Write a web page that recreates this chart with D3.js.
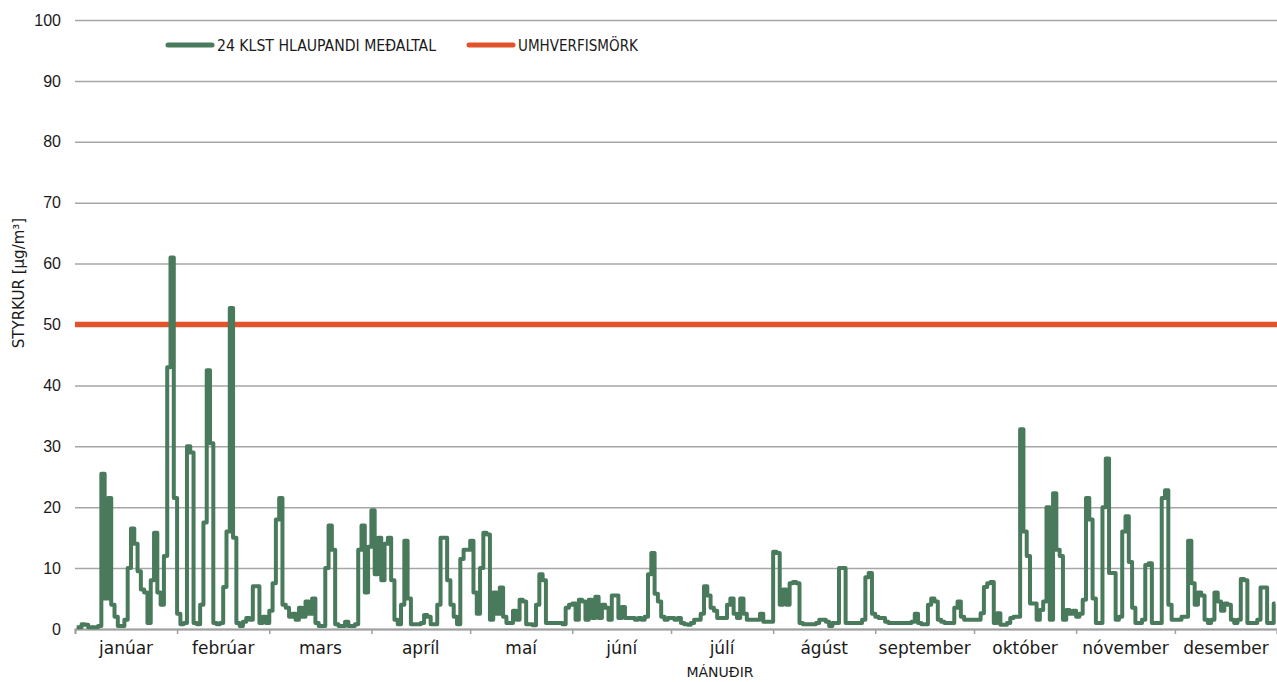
<!DOCTYPE html>
<html>
<head>
<meta charset="utf-8">
<script src="https://cdn.jsdelivr.net/npm/d3@7"></script>
<style>
  body { margin: 0; background: #fff; }
  svg { display: block; font-family: "DejaVu Sans", sans-serif; }
</style>
</head>
<body>
<svg id="chart"></svg>
<script>
// month names and lengths
const monthNames = ["janúar", "febrúar", "mars", "apríl", "maí", "júní", "júlí", "ágúst", "september", "október", "nóvember", "desember"];
const monthDays = [31, 28, 31, 30, 31, 30, 31, 31, 30, 31, 30, 31];

// daily values of the 24h running mean, one array per month (µg/m3)
const jan = [0.3, 0.3, 0.8, 0.7, 0.3, 0.3, 0.3, 0.5, 25.5, 5, 21.5, 4, 2, 0.5, 0.5, 1.5, 10, 16.5, 14, 9.5, 6.5, 6, 1, 8, 15.8, 6, 4, 12, 43, 61, 21.5];
const feb = [2.5, 0.8, 1, 30, 29, 1, 0.8, 4, 17.5, 42.5, 30.5, 1, 0.8, 1, 6.9, 16, 52.7, 15, 1, 0.5, 1.2, 1.8, 1.5, 7, 7, 1, 2, 1];
const mar = [3, 7.5, 18, 21.5, 4, 3.5, 2, 2.5, 1.5, 3.5, 2, 4.5, 2.5, 5, 1, 0.5, 0.5, 10, 17, 13, 0.8, 0.5, 0.5, 1.2, 0.5, 0.5, 0.8, 13, 17, 6, 13.5];
const apr = [19.5, 9, 15, 8, 14, 15, 8, 1.5, 0.8, 4, 14.5, 5, 0.8, 0.8, 0.8, 1, 2.3, 2, 0.8, 0.8, 4, 15, 15, 8, 4, 2, 0.8, 11.5, 13, 13];
const may = [14.5, 6, 2.5, 10, 15.8, 15.5, 1.5, 6, 2.5, 6.8, 2, 1, 1, 3, 1.5, 4.8, 4.5, 0.8, 0.8, 0.6, 4, 9, 8, 1, 1, 1, 1, 1, 0.8, 3.5, 4];
const jun = [4.2, 1.5, 4.8, 4.5, 1.5, 4.8, 1.8, 5.3, 1.8, 4, 3.5, 1.5, 5.5, 5.5, 1.8, 3.6, 1.8, 1.8, 1.8, 1.5, 1.8, 1.5, 2, 9, 12.5, 5.8, 4.5, 2, 1.5, 1.8];
const jul = [1.8, 1.5, 1.8, 1, 0.8, 0.7, 1, 1.5, 1.5, 2.5, 7, 5.5, 3.5, 3, 1.8, 1.8, 1.8, 4, 5, 2.5, 1.8, 5, 2.5, 1.5, 1.5, 1.5, 1.5, 2.5, 1.2, 1.2, 1.2];
const aug = [12.7, 12.5, 4, 6.5, 4, 7.5, 7.7, 7.5, 1, 0.8, 0.8, 0.8, 0.8, 1, 1.5, 1.5, 1.2, 0.5, 1, 1, 10, 10, 1, 1, 1, 1, 1, 1.5, 8.5, 9.2, 2.5];
const sep = [2, 1.8, 1.8, 1.2, 1, 1, 1, 1, 1, 1, 1, 1.2, 2.5, 1, 0.8, 0.8, 4, 5, 4.5, 1.5, 1.2, 1, 1, 1, 3.5, 4.5, 2, 1.5, 1.5, 1.5];
const oct = [1.5, 1.5, 2.6, 6.9, 7.5, 7.7, 1, 2.6, 0.7, 0.7, 1, 1.8, 2, 2, 32.8, 16, 12, 4.2, 4.2, 1.5, 3.1, 4.5, 20, 1.5, 22.3, 13, 12, 1.5, 3.1, 2.5, 3];
const nov = [2, 2.5, 4.8, 21.5, 18, 5, 1, 1, 20, 28, 9.2, 9.2, 1.5, 2, 16, 18.5, 11, 3.5, 1, 1, 1.5, 10.5, 10.8, 1, 1, 1, 21.5, 22.8, 4, 1.5];
const dec = [1.5, 1.5, 2, 2, 14.5, 7.5, 4, 6, 5.5, 1.5, 1, 1.5, 6, 4.5, 3, 4.2, 4, 1.5, 1, 1.5, 8.2, 8, 1, 1, 1, 1.5, 6.8, 6.8, 1, 1, 4.2];

const yTicks = [0, 10, 20, 30, 40, 50, 60, 70, 80, 90, 100];
const limitValue = 50;

const seriesLabel = "24 KLST HLAUPANDI MEÐALTAL";
const limitLabel = "UMHVERFISMÖRK";
const xTitle = "MÁNUÐIR";
const yTitle = "STYRKUR [µg/m³]";

const width = 1277, height = 682;
const margin = {top: 20, right: 0, bottom: 53, left: 75};
const green = "#4a7a5c", orange = "#e0532b";

const svg = d3.select("#chart").attr("width", width).attr("height", height);

const values = [jan, feb, mar, apr, may, jun, jul, aug, sep, oct, nov, dec].flat();
const data = values.map((v, i) => ({day: i + 0.5, value: v}));
const bounds = [0, ...d3.cumsum(monthDays)];

const x = d3.scaleLinear().domain([0, d3.sum(monthDays)]).range([margin.left, width - margin.right]);
const y = d3.scaleLinear().domain([0, 100]).range([height - margin.bottom, margin.top]);

// gridlines + y labels
const yAxis = svg.append("g")
    .attr("transform", `translate(${margin.left},0)`)
    .call(d3.axisLeft(y).tickValues(yTicks).tickSize(-(width - margin.left - margin.right)).tickPadding(14));
yAxis.select(".domain").remove();
yAxis.selectAll(".tick line").attr("stroke", "#a6a6a6").attr("stroke-width", 1.5);
yAxis.selectAll(".tick text").attr("fill", "#1a1a1a").style("font-size", "16px");

// x axis with month boundary ticks
const xAxis = svg.append("g")
    .attr("transform", `translate(0,${y(0)})`)
    .call(d3.axisBottom(x).tickValues(bounds).tickSize(5).tickFormat(""));
xAxis.select(".domain").attr("stroke", "#a0a0a0").attr("stroke-width", 2);
xAxis.selectAll(".tick line").attr("stroke", "#a0a0a0").attr("stroke-width", 1.5);

svg.append("g").selectAll("text")
    .data(monthNames)
    .enter()
    .append("text")
    .attr("x", (d, i) => x((bounds[i] + bounds[i + 1]) / 2))
    .attr("y", 654)
    .attr("text-anchor", "middle")
    .attr("fill", "#1a1a1a")
    .style("font-size", "17px")
    .text(d => d);

// limit line
svg.append("line")
    .attr("x1", x(0)).attr("x2", x(d3.sum(monthDays)))
    .attr("y1", y(limitValue)).attr("y2", y(limitValue))
    .attr("stroke", orange).attr("stroke-width", 5.5);

// running mean series, drawn as steps so the jumps come out vertical
const line = d3.line().curve(d3.curveStep).x(d => x(d.day)).y(d => y(d.value));
svg.append("path")
    .datum(data)
    .attr("d", line)
    .attr("fill", "none")
    .attr("stroke", green)
    .attr("stroke-width", 4)
    .attr("stroke-linejoin", "round");

// legend
const legend = [
    {label: seriesLabel, color: green, x: 168, len: 219},
    {label: limitLabel, color: orange, x: 469, len: 120}
];
const lg = svg.append("g").selectAll("g").data(legend).enter().append("g");
lg.append("line")
    .attr("x1", d => d.x).attr("x2", d => d.x + 44)
    .attr("y1", 45).attr("y2", 45)
    .attr("stroke", d => d.color).attr("stroke-width", 5).attr("stroke-linecap", "round");
lg.append("text")
    .attr("x", d => d.x + 49)
    .attr("y", 50.5)
    .attr("fill", "#1a1a1a")
    .attr("textLength", d => d.len)
    .attr("lengthAdjust", "spacingAndGlyphs")
    .style("font-family", "'DejaVu Sans Condensed', 'DejaVu Sans', sans-serif")
    .style("font-size", "15px")
    .text(d => d.label);

// axis titles
svg.append("text")
    .attr("x", 720).attr("y", 677)
    .attr("text-anchor", "middle")
    .attr("fill", "#1a1a1a")
    .style("font-size", "14px")
    .text(xTitle);

svg.append("text")
    .attr("transform", "rotate(-90)")
    .attr("x", -283).attr("y", 24)
    .attr("text-anchor", "middle")
    .attr("fill", "#1a1a1a")
    .style("font-size", "15px")
    .text(yTitle);
</script>
</body>
</html>
